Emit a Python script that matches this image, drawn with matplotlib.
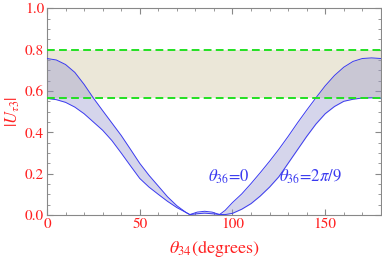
import matplotlib
matplotlib.use("Agg")
import matplotlib.pyplot as plt
from matplotlib.ticker import MultipleLocator

plt.rcParams['font.family'] = ['STIXGeneral', 'DejaVu Serif']
plt.rcParams['mathtext.fontset'] = 'stix'

# theta_34 in degrees
theta = [0, 5, 10, 15, 20, 25, 30, 35, 40, 45, 50, 55, 60, 65, 70, 75, 77,
         81, 85, 89, 93, 96, 100, 105, 110, 115, 120, 125, 130, 135, 140,
         145, 150, 155, 160, 165, 170, 175, 180]

# |U_tau3| for theta_36 = 0
u_zero = [0.757, 0.750, 0.728, 0.690, 0.632, 0.566, 0.505, 0.445, 0.385,
          0.318, 0.250, 0.192, 0.140, 0.088, 0.045, 0.012, 0.002,
          0.014, 0.018, 0.014, 0.002, 0.022, 0.060, 0.102, 0.152, 0.205,
          0.260, 0.318, 0.380, 0.445, 0.507, 0.567, 0.625, 0.675, 0.715,
          0.743, 0.757, 0.760, 0.757]

# |U_tau3| for theta_36 = 2pi/9
u_2pi9 = [0.564, 0.558, 0.545, 0.522, 0.490, 0.450, 0.410, 0.360, 0.300,
          0.238, 0.177, 0.135, 0.100, 0.066, 0.036, 0.012, 0.002,
          0.006, 0.009, 0.006, 0.003, 0.002, 0.008, 0.028, 0.055, 0.092,
          0.135, 0.185, 0.250, 0.315, 0.380, 0.440, 0.490, 0.525, 0.550,
          0.560, 0.566, 0.567, 0.565]

# allowed range of |U_tau3|
band_lo = 0.567
band_hi = 0.80

red = '#ff2020'
blue = '#3a3af0'

fig = plt.figure(figsize=(3.82, 2.63), dpi=100)
ax = fig.add_axes([0.123, 0.1825, 0.874, 0.786])

ax.axhspan(band_lo, band_hi, color='#ebe7d8', lw=0, zorder=1)
ax.fill_between(theta, u_2pi9, u_zero, color='#9898cf', alpha=0.4, lw=0, zorder=2)
ax.plot(theta, u_zero, color=blue, lw=0.7, zorder=3)
ax.plot(theta, u_2pi9, color=blue, lw=0.7, zorder=3)
for yv in (band_lo, band_hi):
    ax.axhline(yv, color='#22e022', lw=1.4, ls=(0, (4, 2.2)), zorder=4)

ax.text(87, 0.185, r'$\theta_{36}$=0', color=blue, fontsize=12, va='center')
ax.text(125, 0.185, r'$\theta_{36}$=2$\pi$/9', color=blue, fontsize=12, va='center')

ax.set_xlim(0, 180)
ax.set_ylim(0, 1.0)
ax.xaxis.set_major_locator(MultipleLocator(50))
ax.xaxis.set_minor_locator(MultipleLocator(10))
ax.yaxis.set_minor_locator(MultipleLocator(0.05))
ax.set_yticks([0, 0.2, 0.4, 0.6, 0.8, 1.0])
ax.set_yticklabels(['0.0', '0.2', '0.4', '0.6', '0.8', '1.0'])

ax.tick_params(which='both', direction='in', top=True, right=True,
               color='#888888', labelcolor=red, labelsize=11, pad=2)
ax.tick_params(which='major', length=4, width=0.8)
ax.tick_params(which='minor', length=2, width=0.6)
for sp in ax.spines.values():
    sp.set_color('#888888')
    sp.set_linewidth(0.8)

ax.set_xlabel(r'$\theta_{34}$(degrees)', color=red, fontsize=13, labelpad=5)
ax.set_ylabel(r'$|U_{\tau 3}|$', color=red, fontsize=12, labelpad=2)

fig.savefig('out.png', dpi=100)
